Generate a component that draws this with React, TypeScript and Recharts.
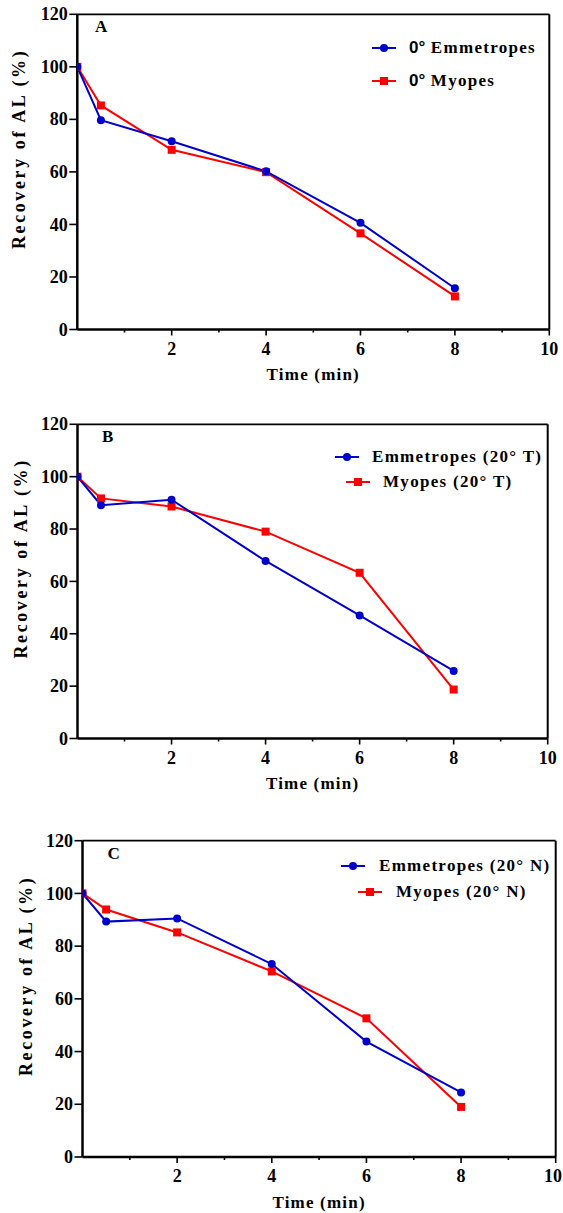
import { LineChart, Line, XAxis, YAxis, ReferenceLine, Legend, Label } from 'recharts'

// time points (min)
const time = [0, 0.5, 2, 4, 6, 8]

// recovery of AL (%)
const emmA = [100, 79.7, 71.7, 60.2, 40.6, 15.7]
const myoA = [100, 85.3, 68.4, 59.9, 36.6, 12.6]
const emmB = [100, 89.1, 91.2, 67.8, 47.0, 25.8]
const myoB = [100, 91.7, 88.6, 79.0, 63.3, 18.7]
const emmC = [100, 89.3, 90.5, 73.2, 43.8, 24.5]
const myoC = [100, 93.9, 85.2, 70.4, 52.6, 19.0]

const yTicks = [0, 20, 40, 60, 80, 100, 120]
const xTicks = [1, 2, 3, 4, 5, 6, 7, 8, 9, 10]

const panelLetters = ['A', 'B', 'C']
const emmNames = ['0° Emmetropes', 'Emmetropes (20° T)', 'Emmetropes (20° N)']
const myoNames = ['0° Myopes', 'Myopes (20° T)', 'Myopes (20° N)']

const BLUE = '#0000cc'
const RED = '#ff0000'
const FONT = '"Liberation Serif", "Times New Roman", serif'
const W = 563
const H = 400

// page placement of each panel (px)
const panels = [
  { top: 0, plotTop: 14.3, plotBottom: 329.5, plotLeft: 77.3, plotRight: 549.3, yLabelX: 25.5, letterX: 95, letterY: 32.3,
    legend: [{ y: 47.5, mx: 372, tx: 409 }, { y: 80.5, mx: 372, tx: 409 }] },
  { top: 410, plotTop: 14.3, plotBottom: 328.5, plotLeft: 77.5, plotRight: 547.7, yLabelX: 27, letterX: 102, letterY: 31.7,
    legend: [{ y: 46.7, mx: 335, tx: 372 }, { y: 71.7, mx: 346, tx: 383 }] },
  { top: 813, plotTop: 27.7, plotBottom: 344, plotLeft: 82.5, plotRight: 555.7, yLabelX: 32.5, letterX: 107.6, letterY: 46,
    legend: [{ y: 53, mx: 341, tx: 379 }, { y: 78.7, mx: 358, tx: 396 }] },
]

const series = [
  [emmA, myoA],
  [emmB, myoB],
  [emmC, myoC],
]

const textStyle = { fontFamily: FONT, fontWeight: 700, fontSize: 17, fill: '#000' }
const tickStyle = { ...textStyle, fontSize: 18 }

function XTick(props: any) {
  const { x, y, payload } = props
  const v = payload.value
  const major = v % 2 === 0
  // keep the last label inside the page
  const tx = Math.min(x, W - 10)
  return (
    <g>
      <line x1={x} x2={x} y1={y} y2={y + (major ? 6 : 3)} stroke="#000" strokeWidth={1.6} />
      {major && (
        <text x={tx} y={y + 25} textAnchor="middle" style={tickStyle}>
          {v}
        </text>
      )}
    </g>
  )
}

function YTick(props: any) {
  const { x, y, payload } = props
  return (
    <g>
      <line x1={x - 8} x2={x} y1={y} y2={y} stroke="#000" strokeWidth={1.6} />
      <text x={x - 9.5} y={y} dy="0.34em" textAnchor="end" style={tickStyle}>
        {payload.value}
      </text>
    </g>
  )
}

const circleDot = (props: any) => {
  const { cx, cy, index } = props
  return <circle key={`c-${index}`} cx={cx} cy={cy} r={4} fill={BLUE} />
}

const squareDot = (props: any) => {
  const { cx, cy, index } = props
  return <rect key={`s-${index}`} x={cx - 4} y={cy - 4} width={8} height={8} fill={RED} />
}

function LegendMarker({ color, square }: { color: string; square: boolean }) {
  return (
    <svg width={24} height={12} style={{ display: 'block' }}>
      <line x1={0} x2={24} y1={6} y2={6} stroke={color} strokeWidth={2} />
      {square ? <rect x={8} y={2} width={8} height={8} fill={color} /> : <circle cx={12} cy={6} r={4} fill={color} />}
    </svg>
  )
}

function LegendLabel({ text }: { text: string }) {
  // the "0°" prefix in panel A is set in a sans face in the original
  if (text.startsWith('0° ')) {
    return (
      <>
        <span style={{ fontFamily: '"Liberation Sans", Arial, sans-serif', letterSpacing: 0 }}>0°</span>
        {' ' + text.slice(3)}
      </>
    )
  }
  return <>{text}</>
}

function Panel({ idx }: { idx: number }) {
  const p = panels[idx]
  const [emm, myo] = series[idx]
  const data = time.map((t, i) => ({ time: t, emm: emm[i], myo: myo[i] }))
  const xAxisH = 40
  const yAxisW = 60
  const margin = {
    top: p.plotTop,
    bottom: H - p.plotBottom - xAxisH,
    left: p.plotLeft - yAxisW,
    right: W - p.plotRight,
  }
  const cx = (p.plotLeft + p.plotRight) / 2
  const cyLabel = (p.plotTop + p.plotBottom) / 2 - 23

  const rows = [
    { name: emmNames[idx], color: BLUE, square: false, ...p.legend[0] },
    { name: myoNames[idx], color: RED, square: true, ...p.legend[1] },
  ]

  return (
    <div style={{ position: 'absolute', top: p.top, left: 0, width: W, height: H }}>
      <LineChart width={W} height={H} data={data} margin={margin}>
        <XAxis
          dataKey="time"
          type="number"
          domain={[0, 10]}
          ticks={xTicks}
          interval={0}
          height={xAxisH}
          tickSize={0}
          tickMargin={0}
          tickLine={false}
          tick={<XTick />}
          axisLine={{ stroke: '#000', strokeWidth: 2.5 }}
          allowDataOverflow
        >
          <Label
            content={() => (
              <text x={cx} y={p.plotBottom + 50.5} textAnchor="middle" style={{ ...textStyle, letterSpacing: 1.2 }}>
                Time (min)
              </text>
            )}
          />
        </XAxis>
        <YAxis
          type="number"
          domain={[0, 120]}
          ticks={yTicks}
          interval={0}
          width={yAxisW}
          tickSize={0}
          tickMargin={0}
          tickLine={false}
          tick={<YTick />}
          axisLine={{ stroke: '#000', strokeWidth: 2.5 }}
          allowDataOverflow
        >
          <Label
            content={() => (
              <text
                x={p.yLabelX}
                y={cyLabel}
                textAnchor="middle"
                transform={`rotate(-90, ${p.yLabelX}, ${cyLabel})`}
                style={{ ...textStyle, fontSize: 18, letterSpacing: 2.6 }}
              >
                Recovery of AL (%)
              </text>
            )}
          />
          <Label
            content={() => (
              <text x={p.letterX} y={p.letterY} textAnchor="start" style={textStyle}>
                {panelLetters[idx]}
              </text>
            )}
          />
        </YAxis>
        <ReferenceLine y={120} stroke="#000" strokeWidth={1.7} />
        <ReferenceLine x={10} stroke="#000" strokeWidth={2} />
        <Line
          dataKey="myo"
          name={myoNames[idx]}
          stroke={RED}
          strokeWidth={2}
          dot={squareDot}
          activeDot={false}
          isAnimationActive={false}
        />
        <Line
          dataKey="emm"
          name={emmNames[idx]}
          stroke={BLUE}
          strokeWidth={2}
          dot={circleDot}
          activeDot={false}
          isAnimationActive={false}
        />
        <Legend
          layout="vertical"
          align="center"
          verticalAlign="middle"
          wrapperStyle={{ position: 'absolute', top: 0, left: 0, width: W, height: 0 }}
          content={() => (
            <div style={{ position: 'relative', width: W, height: 0 }}>
              {rows.map((r) => (
                <div key={r.name}>
                  <div style={{ position: 'absolute', left: r.mx, top: r.y - 6 }}>
                    <LegendMarker color={r.color} square={r.square} />
                  </div>
                  <div
                    style={{
                      position: 'absolute',
                      left: r.tx,
                      top: r.y - 12,
                      height: 24,
                      lineHeight: '24px',
                      whiteSpace: 'nowrap',
                      fontFamily: FONT,
                      fontWeight: 700,
                      fontSize: 17,
                      letterSpacing: 1.3,
                      color: '#000',
                    }}
                  >
                    <LegendLabel text={r.name} />
                  </div>
                </div>
              ))}
            </div>
          )}
        />
      </LineChart>
    </div>
  )
}

export default function App() {
  return (
    <div style={{ position: 'absolute', top: 0, left: 0, width: W, height: 1213, overflow: 'hidden', background: '#fff' }}>
      {panels.map((_, i) => (
        <Panel key={i} idx={i} />
      ))}
    </div>
  )
}
